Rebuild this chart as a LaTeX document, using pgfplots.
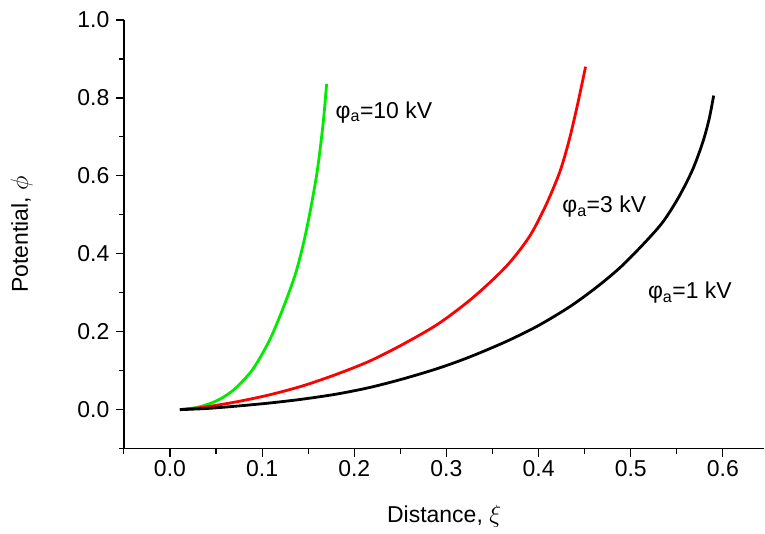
\documentclass[border=0pt]{standalone}
\usepackage{pgfplots}
\pgfplotsset{compat=1.18}
\usepackage{fontspec}
\setmainfont{Liberation Sans}
\definecolor{cgreen}{RGB}{0,235,0}
\definecolor{cred}{RGB}{255,0,0}
\begin{document}
\begin{tikzpicture}
\begin{axis}[
  scale only axis, width=641pt, height=429pt,
  xmin=-0.05, xmax=0.645, ymin=-0.1, ymax=1.0,
  axis lines*=left, axis line style={line width=1.3pt},
  xtick={0,0.1,...,0.6}, ytick={0,0.2,...,1.0},
  minor xtick={-0.05,0.05,0.15,...,0.65}, minor ytick={-0.1,0.1,0.3,...,0.9},
  tick align=outside, major tick length=8pt, minor tick length=5pt,
  every tick/.style={black, line width=1.2pt},
  tick label style={font=\fontsize{23}{27}\selectfont},
  /pgf/number format/assume math mode=true,
  xticklabel style={/pgf/number format/.cd, fixed, fixed zerofill, precision=1},
  yticklabel style={xshift=-3pt, /pgf/number format/.cd, fixed, fixed zerofill, precision=1},
  xlabel={Distance, $\xi$}, ylabel={Potential, $\phi$},
  label style={font=\fontsize{23}{27}\selectfont},
  xlabel style={yshift=-22pt}, ylabel style={yshift=38pt},
  clip=false,
]
\addplot[cgreen, line width=2.8pt, smooth] coordinates {
(0.0108,0.000)(0.030,0.006)(0.047,0.019)(0.060,0.035)(0.072,0.057)(0.090,0.104)(0.108,0.178)
(0.123,0.262)(0.137,0.355)(0.148,0.460)(0.159,0.600)(0.166,0.730)(0.170,0.836)};
\addplot[cred, line width=2.8pt, smooth] coordinates {
(0.0108,0.000)(0.036,0.006)(0.072,0.020)(0.108,0.038)(0.144,0.061)(0.181,0.091)(0.217,0.125)
(0.253,0.168)(0.291,0.220)(0.329,0.288)(0.365,0.368)(0.390,0.444)(0.408,0.525)(0.423,0.610)
(0.433,0.690)(0.442,0.780)(0.451,0.880)};
\addplot[black, line width=2.8pt, smooth] coordinates {
(0.0108,0.000)(0.040,0.003)(0.072,0.009)(0.108,0.017)(0.144,0.027)(0.181,0.040)(0.217,0.057)
(0.253,0.079)(0.291,0.106)(0.325,0.135)(0.365,0.175)(0.400,0.216)(0.435,0.266)(0.465,0.318)
(0.490,0.368)(0.515,0.428)(0.535,0.482)(0.552,0.545)(0.567,0.615)(0.578,0.685)(0.585,0.745)(0.590,0.806)};
\node[anchor=west, font=\fontsize{23}{27}\selectfont] at (axis cs:0.176,0.763) {φ\textsubscript{a}=10 kV};
\node[anchor=west, font=\fontsize{23}{27}\selectfont] at (axis cs:0.422,0.520) {φ\textsubscript{a}=3 kV};
\node[anchor=west, font=\fontsize{23}{27}\selectfont] at (axis cs:0.515,0.300) {φ\textsubscript{a}=1 kV};
\end{axis}
\path ([xshift=-124pt,yshift=-85pt]current axis.south west) rectangle ([yshift=20pt]current axis.north east);
\end{tikzpicture}
\end{document}
